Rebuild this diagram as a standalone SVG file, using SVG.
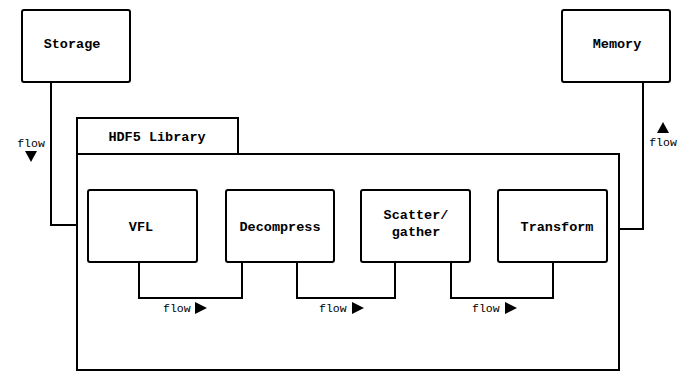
<svg xmlns="http://www.w3.org/2000/svg" width="694" height="385" viewBox="0 0 694 385">
<style>
.box{fill:#fff;stroke:#000;stroke-width:2}
.lbl{font-family:"Liberation Mono","Courier New",monospace;font-weight:bold;font-size:13.5px;text-anchor:middle;dominant-baseline:central;fill:#000}
.flow{font-family:"Liberation Mono","Courier New",monospace;font-size:11.5px;dominant-baseline:central;fill:#000}
.wire{fill:none;stroke:#000;stroke-width:2}
.tri{fill:#000}
</style>
<rect width="694" height="385" fill="#fff"/>
<g id="storage">
<rect class="box" x="22" y="10" width="108" height="72" rx="2"/>
<text class="lbl" x="72" y="44">Storage</text>
</g>
<g id="memory">
<rect class="box" x="562" y="10" width="108" height="72" rx="2"/>
<text class="lbl" x="617" y="44">Memory</text>
</g>
<g id="hdf5">
<rect class="box" x="77" y="118" width="161" height="36"/>
<text class="lbl" x="157" y="137">HDF5 Library</text>
<rect class="box" x="77" y="154" width="542" height="216"/>
</g>
<g id="vfl">
<rect class="box" x="88" y="190" width="109" height="72" rx="2"/>
<text class="lbl" x="141" y="227">VFL</text>
</g>
<g id="decompress">
<rect class="box" x="226" y="190" width="108" height="72" rx="2"/>
<text class="lbl" x="280" y="227">Decompress</text>
</g>
<g id="scatter">
<rect class="box" x="361" y="190" width="109" height="72" rx="2"/>
<text class="lbl" x="416" y="215">Scatter/</text>
<text class="lbl" x="416" y="232">gather</text>
</g>
<g id="transform">
<rect class="box" x="498" y="190" width="109" height="72" rx="2"/>
<text class="lbl" x="557" y="227">Transform</text>
</g>
<g id="connectors">
<polyline class="wire" points="51,82 51,225 77,225"/>
<polyline class="wire" points="643,82 643,229 620,229"/>
<polyline class="wire" points="139,262 139,298 242,298 242,262"/>
<polyline class="wire" points="297,262 297,298 395,298 395,262"/>
<polyline class="wire" points="451,262 451,298 553,298 553,262"/>
<text class="flow" x="31" y="143" text-anchor="middle">flow</text>
<polygon class="tri" points="25,151 37,151 31,162"/>
<text class="flow" x="663" y="142" text-anchor="middle">flow</text>
<polygon class="tri" points="657,133 669,133 663,122"/>
<text class="flow" x="163" y="308">flow</text>
<polygon class="tri" points="195,302 195,314 207,308"/>
<text class="flow" x="319" y="308">flow</text>
<polygon class="tri" points="352,302 352,314 364,308"/>
<text class="flow" x="472" y="308">flow</text>
<polygon class="tri" points="505,302 505,314 517,308"/>
</g>
</svg>
